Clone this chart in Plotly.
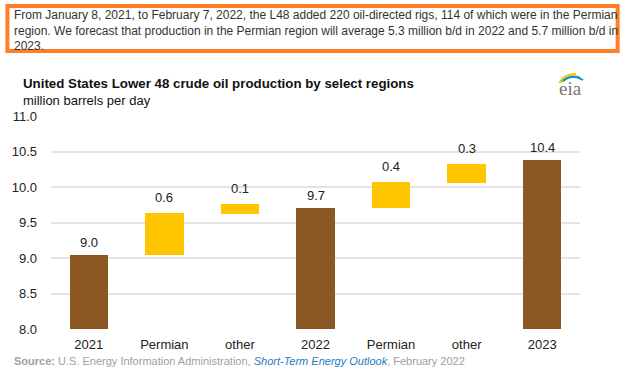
import plotly.graph_objects as go

# ---- data ----
positions = [0, 1, 2, 3, 4, 5, 6]
tick_labels = ["2021", "Permian", "other", "2022", "Permian", "other", "2023"]

total_x = [0, 3, 6]
total_values = [9.04, 9.70, 10.38]

change_x = [1, 2, 4, 5]
change_base = [9.04, 9.62, 9.70, 10.05]
change_values = [0.59, 0.14, 0.37, 0.27]

y_ticks = [8.0, 8.5, 9.0, 9.5, 10.0, 10.5, 11.0]

W, H = 631, 367
ML, MR, MT, MB = 46, 51, 116, 38
PW, PH = W - ML - MR, H - MT - MB


def px(x):
    return (x - ML) / PW


def py(y):
    return (H - MB - y) / PH


FONT = "Liberation Sans, Arial, sans-serif"
BROWN = "#8B5722"
YELLOW = "#FFC600"

fig = go.Figure()
fig.add_trace(go.Bar(x=total_x, y=total_values, marker=dict(color=BROWN, line=dict(width=0)),
                     width=0.51, hoverinfo="y", showlegend=False))
fig.add_trace(go.Bar(x=change_x, y=change_values, base=change_base,
                     marker=dict(color=YELLOW, line=dict(width=0)),
                     width=0.51, hoverinfo="y", showlegend=False))

annotations = []
for xv, v in zip(total_x, total_values):
    annotations.append(dict(x=xv, y=v, xref="x", yref="y", text=f"{v:.1f}", showarrow=False,
                            yanchor="middle", yshift=13, font=dict(family=FONT, size=13, color="#222")))
for xv, b, v in zip(change_x, change_base, change_values):
    annotations.append(dict(x=xv, y=b + v, xref="x", yref="y", text=f"{v:.1f}", showarrow=False,
                            yanchor="middle", yshift=16, font=dict(family=FONT, size=13, color="#222")))

# top note box text
box_lines = [
    "From January 8, 2021, to February 7, 2022, the L48 added 220 oil-directed rigs, 114 of which were in the Permian",
    "region. We forecast that production in the Permian region will average 5.3 million b/d in 2022 and 5.7 million b/d in",
    "2023.",
]
for i, line in enumerate(box_lines):
    annotations.append(dict(x=px(7), y=py(15 + i * 15.5), xref="paper", yref="paper", text=line,
                            showarrow=False, xanchor="left", yanchor="middle",
                            font=dict(family=FONT, size=12, color="#333")))

annotations.append(dict(x=px(16), y=py(83), xref="paper", yref="paper",
                        text="<b>United States Lower 48 crude oil production by select regions</b>",
                        showarrow=False, xanchor="left", yanchor="middle",
                        font=dict(family=FONT, size=13.3, color="#111")))
annotations.append(dict(x=px(16), y=py(100), xref="paper", yref="paper",
                        text="million barrels per day", showarrow=False, xanchor="left", yanchor="middle",
                        font=dict(family=FONT, size=13, color="#111")))
annotations.append(dict(x=px(7), y=py(361), xref="paper", yref="paper",
                        text="<b>Source:</b> U.S. Energy Information Administration, "
                             "<i><span style='color:#1f7bbf'>Short-Term Energy Outlook</span></i>, February 2022",
                        showarrow=False, xanchor="left", yanchor="middle",
                        font=dict(family=FONT, size=11, color="#a0a0a0")))
annotations.append(dict(x=px(570), y=py(89), xref="paper", yref="paper", text="eia",
                        showarrow=False, xanchor="center", yanchor="middle",
                        font=dict(family="Liberation Serif, serif", size=19, color="#777")))

shapes = [
    dict(type="rect", xref="paper", yref="paper", x0=px(2), x1=px(618), y0=py(6), y1=py(51),
         line=dict(color="#FF7F27", width=4), fillcolor="rgba(0,0,0,0)", layer="above"),
]


def arc(x0, y0, cx, cy, x1, y1, color):
    return dict(type="path", xref="paper", yref="paper",
                path=f"M {px(x0)},{py(y0)} Q {px(cx)},{py(cy)} {px(x1)},{py(y1)}",
                line=dict(color=color, width=2))


shapes += [
    arc(559, 83, 564, 74, 576, 74, "#F2C500"),
    arc(561, 82, 568, 75, 580, 77, "#8DC63F"),
    arc(563, 81, 572, 73, 583, 80, "#0096D6"),
]

fig.update_layout(
    width=W, height=H,
    margin=dict(l=ML, r=MR, t=MT, b=MB, pad=0),
    paper_bgcolor="white", plot_bgcolor="white",
    bargap=0, barmode="overlay",
    annotations=annotations, shapes=shapes,
    font=dict(family=FONT, size=13, color="#222"),
    xaxis=dict(tickmode="array", tickvals=positions, ticktext=tick_labels, range=[-0.5, 6.5],
               showgrid=False, zeroline=False, showline=False, ticks="",
               ticklabelstandoff=6, tickfont=dict(family=FONT, size=13, color="#222")),
    yaxis=dict(range=[8, 11], tickmode="array", tickvals=y_ticks, tickformat=".1f",
               showgrid=True, gridcolor="#e4e4e4", gridwidth=2, zeroline=False, showline=False,
               ticks="", ticklabelstandoff=13, tickfont=dict(family=FONT, size=13, color="#222")),
)

fig.write_html("out.html", config={"displayModeBar": False},
               post_script="document.body.style.margin='0';document.body.style.overflow='hidden';")
